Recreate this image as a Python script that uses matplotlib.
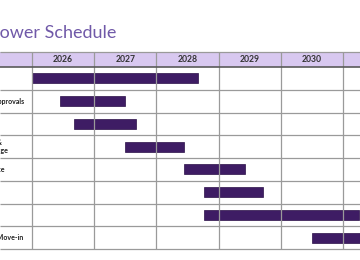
import matplotlib.pyplot as plt
from matplotlib.patches import Rectangle

# schedule data (years, fractional)
tasks = ["Design", "Permits & Approvals", "Tender",
         "Fabrication &\nOffsite Storage", "Site Clearance", "Structure",
         "Fit-out", "Occupants' Move-in"]
start = [2026.0, 2026.45, 2026.67, 2027.5, 2028.45, 2028.77, 2028.77, 2030.5]
end = [2028.67, 2027.5, 2027.67, 2028.45, 2029.42, 2029.72, 2031.25, 2031.6]
years = [2026, 2027, 2028, 2029, 2030, 2031]

#layout in pixels of the 360x260 picture
W, H = 360, 260
px_year = 62.2
x0 = years[0] - 32 / px_year
x1 = x0 + W / px_year
hdr = 15 / 22.75
nrows = len(tasks)

fig = plt.figure(figsize=(3.6, 2.6), dpi=100)
ax = fig.add_axes([0, (H - 249) / H, 1, (249 - 52) / H])
ax.set_xlim(x0, x1)
ax.set_ylim(nrows, -hdr)
ax.axis('off')

#header band
ax.add_patch(Rectangle((x0, -hdr), x1 - x0, hdr, facecolor='#d8c8f0', edgecolor='none'))
for yr in years[:-1]:
    ax.text(yr + 0.5, -hdr / 2, str(yr), ha='center', va='center', fontsize=6.2,
            fontweight='bold', color='#333333', family='Lato')

#grid
ax.vlines(years, -hdr, nrows, color='#9a9a9a', lw=0.9, clip_on=False)
ax.hlines([-hdr] + list(range(1, nrows + 1)), x0, x1, color='#9a9a9a', lw=0.9, clip_on=False)
ax.hlines(0, x0, x1, color='#5a5a5a', lw=1.2)

#bars
rows = [i + 0.5 for i in range(nrows)]
ax.barh(rows, [e - s for s, e in zip(start, end)], left=start, height=0.44,
        color='#3e1c64', edgecolor='#2a1048', lw=0.5)

#task labels, mostly cut by the left edge
lab_x = x0 - 40 / px_year
for r, t in zip(rows, tasks):
    ax.text(lab_x, r, t, ha='left', va='center', fontsize=5, fontweight='bold',
            color='#222222', family='Lato', clip_on=False, linespacing=1.1)

#title, first letter falls off the left edge
title_kw = dict(fontsize=13, color='#7059a8', family='Lato', va='center')
tmp = fig.text(0, 0, "T", **title_kw)
fig.canvas.draw()
tw = tmp.get_window_extent().width
tmp.remove()
fig.text(-(tw + 0.5) / W, 1 - 33 / H, "Tower Schedule", ha='left', **title_kw)

fig.savefig('out.png', dpi=100)
